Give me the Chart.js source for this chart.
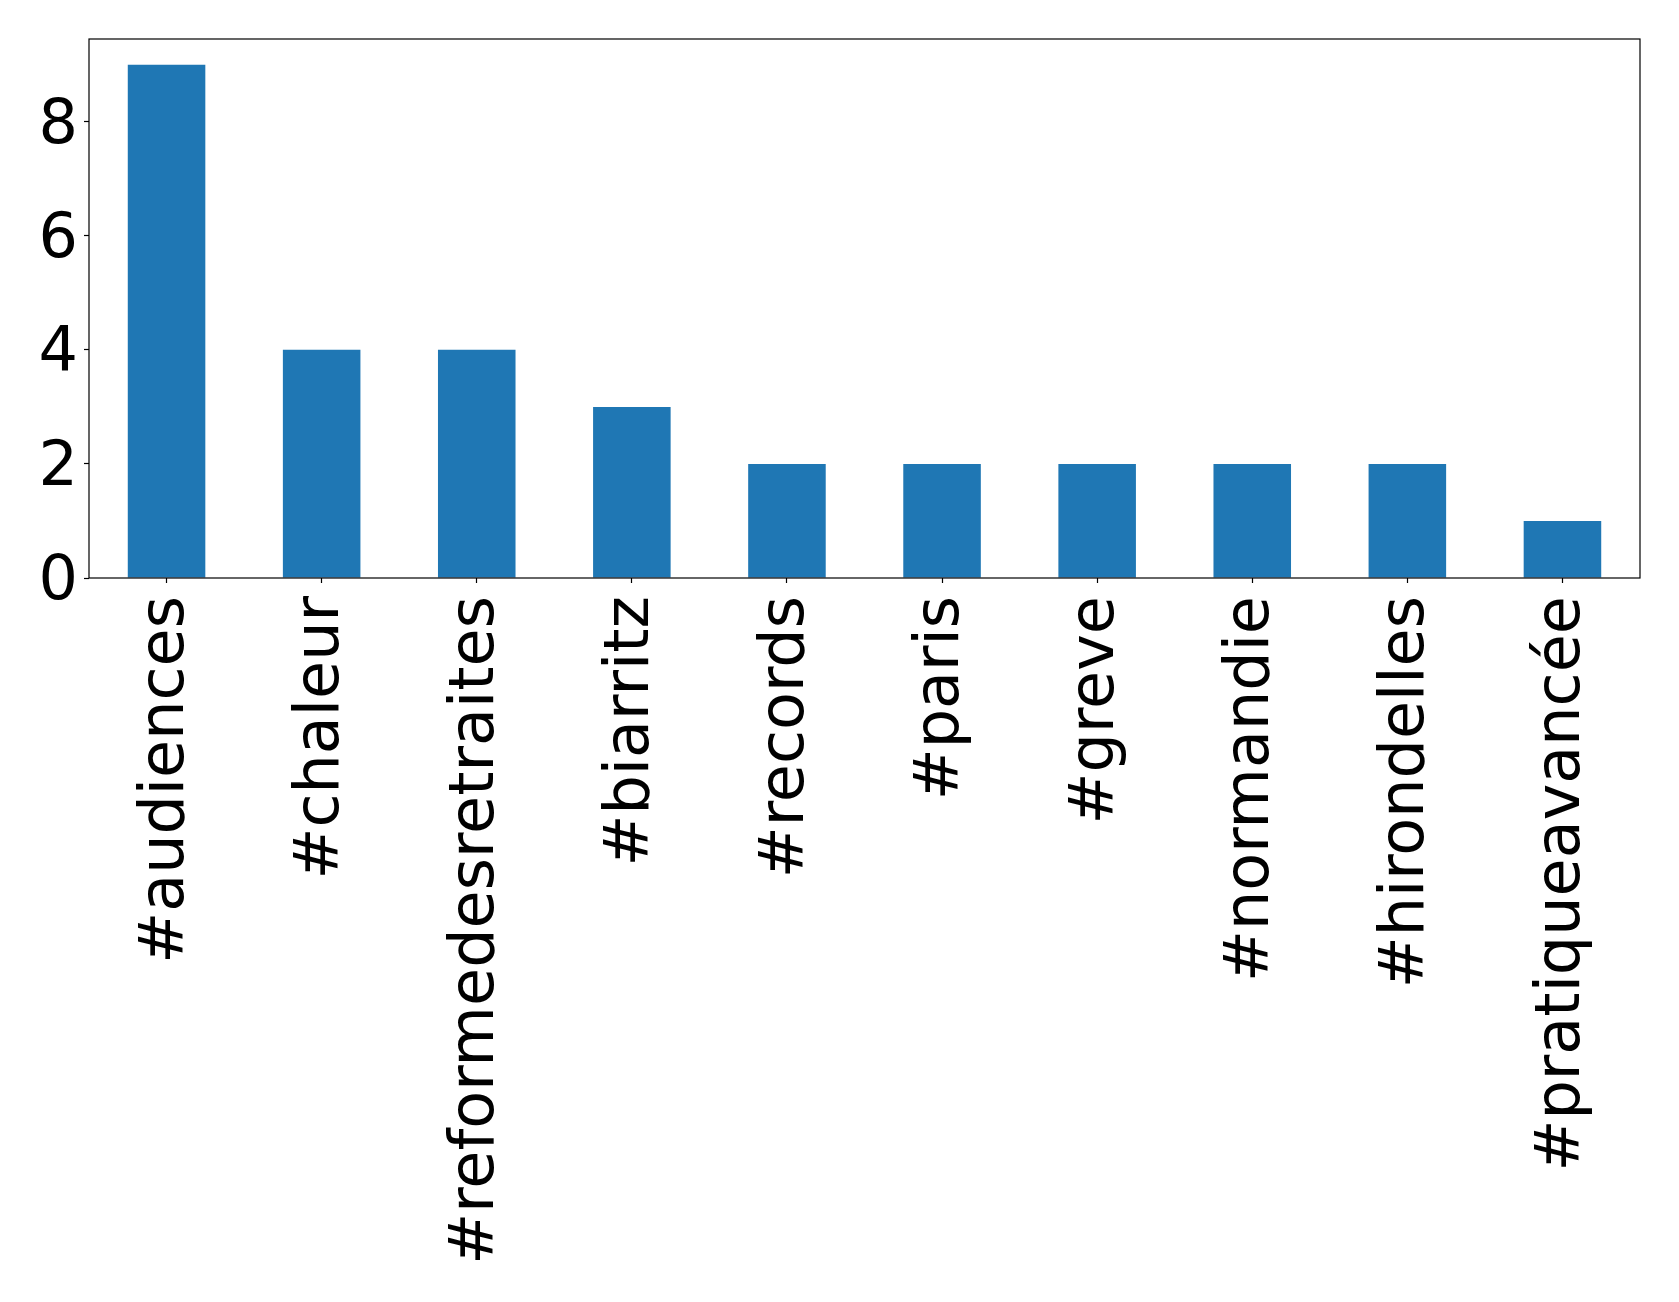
<!DOCTYPE html>
<html>
<head>
<meta charset="utf-8">
<script src="https://cdn.jsdelivr.net/npm/chart.js@4.4.1/dist/chart.umd.min.js"></script>
<style>
  html, body { margin: 0; padding: 0; background: #fff; }
  #wrap { width: 1679px; height: 1302px; }
</style>
</head>
<body>
<div id="wrap"><canvas id="grafico"></canvas></div>
<script>
// dados do gráfico
const hashtags = ['#audiences', '#chaleur', '#reformedesretraites', '#biarritz', '#records',
                  '#paris', '#greve', '#normandie', '#hirondelles', '#pratiqueavancée'];
const contagens = [9, 4, 4, 3, 2, 2, 2, 2, 2, 1];
const ticksY = [0, 2, 4, 6, 8];

// moldura completa em volta da área do gráfico
const moldura = {
    id: 'moldura',
    afterDraw(chart) {
        const a = chart.chartArea;
        const ctx = chart.ctx;
        ctx.save();
        ctx.strokeStyle = '#000';
        ctx.lineWidth = 1.2;
        ctx.strokeRect(a.left, a.top, a.right - a.left, a.bottom - a.top);
        ctx.restore();
    }
};

const ctx = document.getElementById('grafico').getContext('2d');
new Chart(ctx, {
    type: 'bar',
    data: {
        labels: hashtags,
        datasets: [{
            data: contagens,
            backgroundColor: '#1f77b4',
            borderWidth: 0,
            barPercentage: 0.5,
            categoryPercentage: 1.0
        }]
    },
    options: {
        responsive: true,
        maintainAspectRatio: false,
        animation: false,
        layout: { padding: { top: 39, right: 39, left: 0, bottom: 0 } },
        plugins: { legend: { display: false }, tooltip: { enabled: false } },
        scales: {
            x: {
                grid: { display: true, drawOnChartArea: false, offset: false, tickLength: 5, color: '#000', tickWidth: 1.2 },
                border: { display: false },
                ticks: {
                    color: '#000',
                    font: { family: 'DejaVu Sans', size: 62 },
                    maxRotation: 90, minRotation: 90,
                    autoSkip: false,
                    padding: 13
                },
                afterFit(scale) {
                    scale.height = 724;
                    scale.paddingLeft = 0;
                    scale.paddingRight = 0;
                }
            },
            y: {
                min: 0, max: 9.45,
                grid: { display: true, drawOnChartArea: false, tickLength: 5, color: '#000', tickWidth: 1.2 },
                border: { display: false },
                afterBuildTicks(scale) { scale.ticks = ticksY.map(v => ({ value: v })); },
                ticks: {
                    color: '#000',
                    font: { family: 'DejaVu Sans', size: 62 },
                    padding: 6,
                    labelOffset: 5
                },
                afterFit(scale) {
                    scale.width = 89;
                    scale.paddingTop = 0;
                    scale.paddingBottom = 0;
                }
            }
        }
    },
    plugins: [moldura]
});
</script>
</body>
</html>
